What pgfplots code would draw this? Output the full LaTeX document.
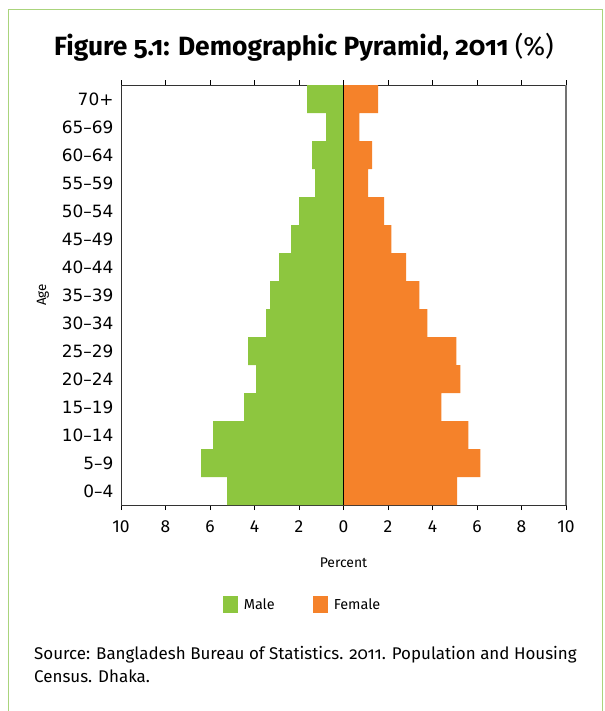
\documentclass[border=0pt]{standalone}
\usepackage{fontspec}
\setmainfont{Fira Sans}
\newfontfamily\oldnum[Numbers=OldStyle]{Fira Sans}
\newfontfamily\vera{DejaVu Sans}
\usepackage{pgfplots}
\pgfplotsset{compat=1.18}

\definecolor{male}{HTML}{8DC63F}
\definecolor{female}{HTML}{F5822A}
\definecolor{frame}{HTML}{AAD47C}

% age groups 0..14 bottom to top, values in percent
\pgfplotstableread{
y  male  female
0  -5.23  5.11
1  -6.40  6.15
2  -5.86  5.61
3  -4.47  4.40
4  -3.93  5.25
5  -4.29  5.07
6  -3.48  3.77
7  -3.30  3.41
8  -2.89  2.82
9  -2.35  2.15
10 -1.99  1.83
11 -1.27  1.11
12 -1.41  1.29
13 -0.78  0.71
14 -1.63  1.56
}\pyramid

\begin{document}
\begin{tikzpicture}
\useasboundingbox (0,0) rectangle (605bp,-711bp);
\draw[frame, line width=1.5bp] (8.5bp,-712bp) -- (8.5bp,-9.5bp) -- (602.7bp,-9.5bp) -- (602.7bp,-712bp);

\node[font=\fontsize{26.5}{31}\selectfont] at (304bp,-47bp)
  {\oldnum\bfseries Figure 5.1: Demographic Pyramid, 2011 \mdseries(\%)};

\node[rotate=90, font=\fontsize{13.5}{16}\selectfont] at (43bp,-295bp) {Age};

\begin{axis}[
    at={(121bp,-505bp)}, anchor=south west,
    scale only axis,
    width=445bp, height=420bp,
    xbar, bar width=1, bar shift=0pt,
    xmin=-10, xmax=10,
    ymin=-0.5, ymax=14.5,
    xtick={-10,-8,...,10},
    xticklabels={10,8,6,4,2,0,2,4,6,8,10},
    ytick={0,...,14},
    yticklabels={0–4,5–9,10–14,15–19,20–24,25–29,30–34,35–39,40–44,45–49,50–54,55–59,60–64,65–69,70+},
    minor ytick={0.5,1.5,...,13.5},
    tick align=outside,
    major x tick style={black, line width=0.8bp},
    major tick length=5bp,
    minor tick length=4bp,
    minor y tick style={black, line width=0.8bp},
    y tick style={draw=none},
    x tick label style={font=\fontsize{17.5}{21}\selectfont, yshift=-7bp},
    y tick label style={font=\vera\fontsize{17}{20}\selectfont, xshift=1bp},
    xlabel={Percent},
    xlabel style={font=\fontsize{14}{17}\selectfont, yshift=-18bp},
    axis line style={black!80, line width=0.9bp},
    legend style={draw=none, at={(0.408,-0.238)}, anchor=center, legend columns=-1,
      font=\fontsize{14.5}{17}\selectfont,
      /tikz/every even column/.append style={column sep=36bp}},
    legend image code/.code={\fill[#1] (0bp,-8.5bp) rectangle (15bp,8.5bp); \path (19bp,0bp);},
    clip=false,
]
\addplot[fill=male, draw=none] table[x=male, y=y] {\pyramid};
\addplot[fill=female, draw=none] table[x=female, y=y] {\pyramid};
\draw[black, line width=0.9bp] (axis cs:0,-0.5) -- (axis cs:0,14.5);
\draw[black!55, line width=1.6bp] (axis cs:10,-0.5) -- (axis cs:10,14.5);
\legend{Male,Female}
\end{axis}

\node[anchor=north west, align=left, font=\oldnum\fontsize{17}{23.5}\selectfont, inner sep=0pt]
  at (34bp,-646bp) {Source: Bangladesh Bureau of Statistics. 2011. Population and Housing\\Census. Dhaka.};
\end{tikzpicture}
\end{document}
